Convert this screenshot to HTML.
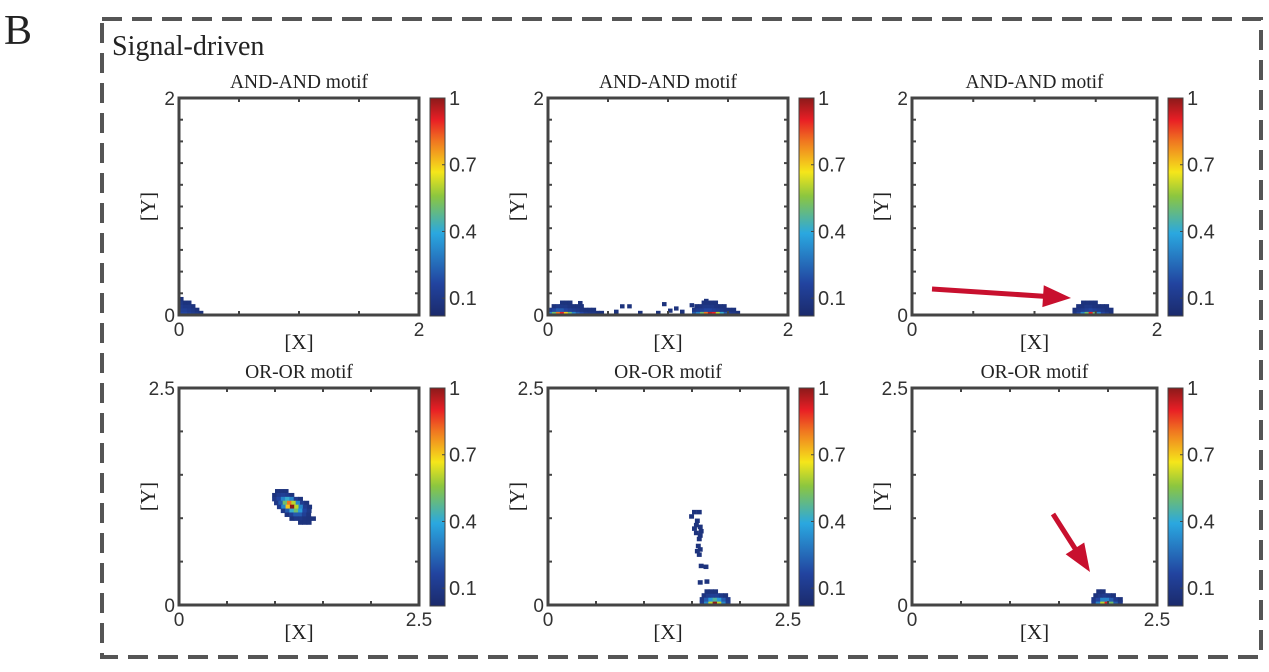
<!DOCTYPE html>
<html><head><meta charset="utf-8">
<style>
html,body{margin:0;padding:0;background:#fff;}
svg{display:block;}
text{font-family:"Liberation Sans",sans-serif;fill:#333;}
.serif{font-family:"Liberation Serif",serif;fill:#222;}
</style></head>
<body>
<svg id="fig" width="1269" height="672" viewBox="0 0 1269 672" xmlns="http://www.w3.org/2000/svg">
<defs>
<linearGradient id="jet" x1="0" y1="1" x2="0" y2="0">
<stop offset="0" stop-color="#1b2a6b"/>
<stop offset="0.15" stop-color="#2244a0"/>
<stop offset="0.38" stop-color="#2aa8e0"/>
<stop offset="0.55" stop-color="#8cc63f"/>
<stop offset="0.66" stop-color="#f5e61a"/>
<stop offset="0.8" stop-color="#f07820"/>
<stop offset="0.9" stop-color="#e81e25"/>
<stop offset="1" stop-color="#8b1a1a"/>
</linearGradient>
</defs>
<text class="serif" x="4" y="44" font-size="42">B</text>
<rect x="102" y="19" width="1159" height="638" fill="none" stroke="#555" stroke-width="4" stroke-dasharray="20,10"/>
<text class="serif" x="112" y="55" font-size="28">Signal-driven</text>
<g id="panels"></g>
<g id="arrows"></g>
</svg>
<script>
// ---- data (rows: y, starting x, values across cells) ----
var titles = ["AND-AND motif","AND-AND motif","AND-AND motif","OR-OR motif","OR-OR motif","OR-OR motif"];
var axisMax = [2,2,2,2.5,2.5,2.5];
var cellStep = [0.033,0.033,0.033,0.045,0.045,0.045];
var cbTicks = [1,0.7,0.4,0.1];
var rowsA1 = [
 [0.015,0.0,[.15,.15,.12,.1,.08,.05]],
 [0.048,0.0,[.12,.12,.1,.08,.05]],
 [0.081,0.0,[.1,.08,.08,.05]],
 [0.114,0.0,[.08,.05,.05]],
 [0.147,0.0,[.05]]
];
var rowsA2 = [
 [0.015,0.0,[.3,.5,.8,.9,.7,.5,.3,.2,.15,.1,.08,.08,.05,.05]],
 [0.015,1.2,[.2,.3,.5,.8,.95,.9,.6,.4,.2,.1,.08,.05]],
 [0.048,0.0,[.1,.15,.2,.2,.15,.12,.1,.08,.06,.05,.05,.05]],
 [0.048,1.2,[.08,.1,.12,.15,.15,.12,.1,.08,.06,.05,.05]],
 [0.081,0.03,[.05,.08,.08,.08,.06,.05,.05,.05]],
 [0.081,1.22,[.05,.06,.08,.08,.08,.06,.05,.05]],
 [0.114,0.1,[.05,.05,.05]],
 [0.114,1.28,[.05,.05,.05,.05]],
 [0.03,0.55,[.05]],[0.08,0.6,[.05]],[0.08,0.66,[.05]],[0.015,0.9,[.05]],
 [0.04,1.0,[.05]],[0.06,1.05,[.05]],[0.09,1.18,[.05]],[0.1,0.95,[.05]],
 [0.03,1.1,[.05]],[0.11,0.25,[.05]],[0.13,1.3,[.05]],[0.015,0.75,[.05]]
];
var rowsA3 = [
 [0.015,1.31,[.08,.15,.3,.5,.9,.5,.3,.15,.1,.05]],
 [0.048,1.31,[.05,.08,.1,.12,.15,.12,.1,.08,.05,.05]],
 [0.081,1.34,[.05,.05,.08,.08,.06,.05,.05,.05]],
 [0.114,1.38,[.05,.05,.05,.05]]
];
var rowsO1 = [
 [1.31,1.00,[.05,.05,.05]],
 [1.265,0.97,[.05,.1,.12,.1,.05]],
 [1.22,0.97,[.08,.15,.3,.4,.3,.1,.05]],
 [1.175,0.99,[.08,.2,.5,.8,.6,.3,.1,.05]],
 [1.13,1.02,[.1,.3,.7,1,.6,.3,.1,.05]],
 [1.085,1.06,[.08,.2,.4,.5,.35,.15,.08]],
 [1.04,1.10,[.06,.12,.2,.2,.12,.06]],
 [0.995,1.15,[.05,.08,.08,.06,.05,.05]],
 [0.95,1.24,[.05,.05,.05]]
];
var rowsO2 = [
 [0.02,1.58,[.1,.3,.6,1,.6,.3,.1]],
 [0.065,1.58,[.08,.2,.35,.45,.35,.2,.08]],
 [0.11,1.6,[.06,.1,.12,.12,.08,.05]],
 [0.155,1.63,[.05,.05,.05]],
 [1.07,1.5,[.05]],[1.07,1.55,[.05]],[1.02,1.47,[.05]],[0.97,1.53,[.05]],
 [0.92,1.52,[.05]],[0.9,1.56,[.05]],[0.88,1.5,[.05]],[0.85,1.57,[.05]],
 [0.83,1.52,[.05]],[0.8,1.56,[.05]],[0.76,1.55,[.05]],[0.68,1.54,[.05]],
 [0.64,1.56,[.05]],[0.62,1.53,[.05]],[0.58,1.55,[.05]],[0.45,1.57,[.05]],
 [0.44,1.62,[.05]],[0.26,1.56,[.05]],[0.27,1.63,[.05]]
];
var rowsO3 = [
 [0.02,1.83,[.1,.3,.6,.9,.5,.2,.08]],
 [0.065,1.83,[.08,.15,.3,.3,.2,.1,.05]],
 [0.11,1.85,[.05,.08,.1,.08,.05]],
 [0.155,1.88,[.05,.05]]
];
var panelRows = [rowsA1,rowsA2,rowsA3,rowsO1,rowsO2,rowsO3];

// ---- layout ----
var lefts=[179,548,912], widths=[240,240,245], tops=[98,388], H=217;
var NS="http://www.w3.org/2000/svg";
function mk(tag,attrs,parent){var e=document.createElementNS(NS,tag);for(var k in attrs)e.setAttribute(k,attrs[k]);parent.appendChild(e);return e;}
var cmapStops=[[0,[27,42,107]],[0.15,[34,68,160]],[0.38,[42,168,224]],[0.55,[140,198,63]],[0.66,[245,230,26]],[0.8,[240,120,32]],[0.9,[232,30,37]],[1,[139,26,26]]];
function jet(v){
 v=Math.max(0,Math.min(1,v));
 for(var i=1;i<cmapStops.length;i++){
  if(v<=cmapStops[i][0]){
   var a=cmapStops[i-1],b=cmapStops[i],f=(v-a[0])/(b[0]-a[0]);
   return "rgb("+[0,1,2].map(function(k){return Math.round(a[1][k]+(b[1][k]-a[1][k])*f);}).join(",")+")";
  }
 }
 return "rgb(139,26,26)";
}
var root=document.getElementById('panels');
for(var p=0;p<6;p++){
 var col=p%3,row=Math.floor(p/3);
 var L=lefts[col],W=widths[col],T=tops[row],B=T+H,mx=axisMax[p];
 var g=mk('g',{},root);
 
 
 var xs=function(v){return L+v/mx*W;}, ys=function(v){return B-v/mx*H;};
 var step=cellStep[p], cw=step/mx*W+0.6, ch=step/mx*H+0.6;
 var rs=panelRows[p];
 for(var i=0;i<rs.length;i++){
  var r=rs[i];
  for(var j=0;j<r[2].length;j++){
   var cx=r[1]+j*step, cy=r[0];
   var rc=mk('rect',{x:xs(cx),y:Math.min(ys(cy)-ch/2,B-ch),width:cw,height:ch,fill:jet(r[2][j])},g);
   
   
  }
 }
 var fr=mk('rect',{x:L,y:T,width:W,height:H,fill:'none',stroke:'#444','stroke-width':3},g);
 
 
 var xstep=0.5, ystep=(mx===2)?0.2:0.5;
 for(var t=xstep;t<mx-1e-6;t+=xstep){
  mk('line',{x1:xs(t),x2:xs(t),y1:T,y2:T+4,stroke:'#444','stroke-width':2},g);
  mk('line',{x1:xs(t),x2:xs(t),y1:B,y2:B-4,stroke:'#444','stroke-width':2},g);
 }
 for(var t=ystep;t<mx-1e-6;t+=ystep){
  mk('line',{x1:L,x2:L+4,y1:ys(t),y2:ys(t),stroke:'#444','stroke-width':2},g);
  mk('line',{x1:L+W,x2:L+W-4,y1:ys(t),y2:ys(t),stroke:'#444','stroke-width':2},g);
 }
 var lab=String(mx);
 var t1=mk('text',{x:L-4,y:B+7,'font-size':19,'text-anchor':'end'},g);t1.textContent='0';
 
 var t2=mk('text',{x:L-4,y:T+7,'font-size':19,'text-anchor':'end'},g);t2.textContent=lab;
 
 var t3=mk('text',{x:L,y:B+21,'font-size':19,'text-anchor':'middle'},g);t3.textContent='0';
 
 var t4=mk('text',{x:L+W,y:B+21,'font-size':19,'text-anchor':'middle'},g);t4.textContent=lab;
 
 var xl=mk('text',{x:L+W/2,y:B+34,'font-size':21,'text-anchor':'middle','class':'serif'},g);xl.textContent='[X]';
 
 var yl=mk('text',{x:0,y:0,'font-size':21,'text-anchor':'middle','class':'serif',transform:'translate('+(L-24)+','+(T+H/2)+') rotate(-90)'},g);yl.textContent='[Y]';
 
 var tt=mk('text',{x:L+W/2,y:T-10,'font-size':19.5,'text-anchor':'middle','class':'serif'},g);tt.textContent=titles[p];
 
 var cbx=L+W+11, cbT=T, cbB=T+218, cbH=cbB-cbT;
 var cb=mk('rect',{x:cbx,y:cbT,width:15,height:cbH,fill:'url(#jet)',stroke:'#444','stroke-width':1},g);
 
 
 var cmin=0.02, cyf=function(v){return cbB-(v-cmin)/(1-cmin)*cbH;};
 for(var k=0;k<cbTicks.length;k++){
  var v=cbTicks[k];
  mk('line',{x1:cbx+12,x2:cbx+15,y1:cyf(v),y2:cyf(v),stroke:'#444','stroke-width':1},g);
  var tl=mk('text',{x:cbx+19,y:cyf(v)+7,'font-size':20},g);tl.textContent=String(v);
  
 }
}
var ag=document.getElementById('arrows');
function arrow(x1,y1,x2,y2,name){
 var dx=x2-x1,dy=y2-y1,len=Math.sqrt(dx*dx+dy*dy),ux=dx/len,uy=dy/len,hl=28,hw=11;
 var bx=x2-ux*hl,by=y2-uy*hl;
 var gg=mk('g',{},ag);
 
 
 mk('line',{x1:x1,y1:y1,x2:bx+ux*4,y2:by+uy*4,stroke:'#c8102e','stroke-width':5},gg);
 mk('polygon',{points:x2+','+y2+' '+(bx-uy*hw)+','+(by+ux*hw)+' '+(bx+uy*hw)+','+(by-ux*hw),fill:'#c8102e'},gg);
}
arrow(932,289,1071,298,'arrow-and-panel');
arrow(1053,514,1090,572,'arrow-or-panel');
</script>
</body></html>
